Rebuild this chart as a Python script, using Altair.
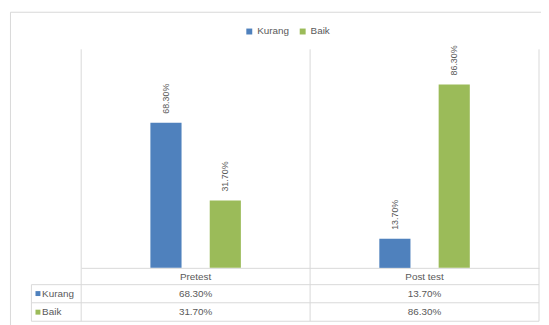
import altair as alt
import pandas as pd

categories = ["Pretest", "Post test"]
series = ["Kurang", "Baik"]
kurang = [68.3, 13.7]
baik = [31.7, 86.3]
colors = ["#4F81BD", "#9BBB59"]

rows = []
for s, vals in zip(series, [kurang, baik]):
    for c, v in zip(categories, vals):
        rows.append({"category": c, "series": s, "value": v})
df = pd.DataFrame(rows)

GRID = "#D9D9D9"
TXT = "#595959"
FONT = "Liberation Sans"
W, H = 463, 221
TABLE_BOTTOM = 275
ROW_Y = [247, 265.8]
ROW_LINES = [238, 256.3, TABLE_BOTTOM]
TABLE_LEFT = -50.3

color_scale = alt.Scale(domain=series, range=colors)
x_enc = alt.X("category:N", scale=alt.Scale(domain=categories, paddingInner=0, paddingOuter=0),
              axis=alt.Axis(title=None, ticks=False, domain=True, domainColor=GRID, labelColor=TXT,
                            labelFontSize=10, labelFont=FONT, labelPadding=9, labelBaseline="middle",
                            labelAngle=0))
xo_enc = alt.XOffset("series:N", scale=alt.Scale(domain=series, paddingInner=0.475, paddingOuter=0,
                                                 range=[70, 161.5]))
y_enc = alt.Y("value:Q", scale=alt.Scale(domain=[0, 102.8], nice=False, zero=True), axis=None)

base = alt.Chart(df).transform_calculate(
    label="format(datum.value, '.2f') + '%'"
)

bars = base.mark_bar().encode(
    x=x_enc, xOffset=xo_enc, y=y_enc,
    color=alt.Color("series:N", scale=color_scale,
                    legend=alt.Legend(orient="none", legendX=165, legendY=-23, direction="horizontal",
                                      title=None, symbolType="square", symbolSize=36,
                                      labelFontSize=10, labelColor=TXT, labelFont=FONT,
                                      columnPadding=8, padding=0, labelOffset=3,
                                      symbolStrokeWidth=0)),
)

labels = base.mark_text(angle=270, align="left", baseline="middle", dx=9, fontSize=9,
                        color=TXT, font=FONT).encode(
    x="category:N", xOffset="series:N", y="value:Q", text="label:N"
)

one = pd.DataFrame({"k": [0]})

def rule(x, x2, y, y2, color=GRID):
    return alt.Chart(one).mark_rule(color=color, strokeWidth=1).encode(
        x=alt.value(x), x2=alt.value(x2), y=alt.value(y), y2=alt.value(y2))

lines = [
    rule(0, 0, 0, TABLE_BOTTOM),
    rule(W / 2, W / 2, 0, TABLE_BOTTOM),
    rule(W, W, 0, TABLE_BOTTOM),
    rule(TABLE_LEFT, TABLE_LEFT, ROW_LINES[0], TABLE_BOTTOM),
    rule(-71.5, W + 10, -37.5, -37.5),
    rule(-71.5, -71.5, -37.5, TABLE_BOTTOM + 20),
]
for ly in ROW_LINES:
    lines.append(rule(TABLE_LEFT, W, ly, ly))

table_layers = []
for i, s in enumerate(series):
    table_layers.append(
        base.transform_filter(alt.datum.series == s).mark_text(
            fontSize=10, color=TXT, font=FONT, baseline="middle").encode(
            x="category:N", y=alt.value(ROW_Y[i]), text="label:N")
    )
    hdr = alt.Chart(pd.DataFrame({"series": [s]}))
    table_layers.append(
        hdr.mark_square(size=25, opacity=1).encode(
            x=alt.value(-43.7), y=alt.value(ROW_Y[i]),
            color=alt.Color("series:N", scale=color_scale, legend=None))
    )
    table_layers.append(
        hdr.mark_text(align="left", baseline="middle", fontSize=10, color=TXT, font=FONT).encode(
            x=alt.value(-39.5), y=alt.value(ROW_Y[i]), text="series:N")
    )

chart = alt.layer(*lines, bars, labels, *table_layers).properties(
    width=W, height=H,
    autosize=alt.AutoSizeParams(type="none"),
    padding={"left": 74, "top": 40, "right": 2, "bottom": 56},
).configure_view(strokeWidth=0)

chart.save("out.html", embed_options={"renderer": "svg", "actions": False})
